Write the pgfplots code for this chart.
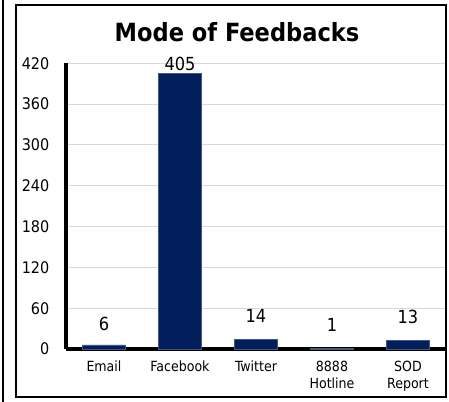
\documentclass[border=0pt]{standalone}
\usepackage{pgfplots}
\pgfplotsset{compat=1.18}
\usepackage{pgfplotstable}
\usepackage{fontspec}
\setmainfont{DejaVu Sans Condensed}

\definecolor{barblue}{RGB}{2,31,92}
\definecolor{gridgrey}{RGB}{217,217,217}

% mode, count, label lift (pt above bar top)
\pgfplotstableread{
x y lift
0 6 11
1 405 2
2 14 12.5
3 1 12.5
4 13 12.5
}\feedbacks

\begin{document}
\begin{tikzpicture}
\begin{axis}[
  scale only axis,
  width=285pt, height=214.3pt,
  xmin=-0.5, xmax=4.5,
  ymin=0, ymax=420,
  ytick={0,60,...,420},
  xtick=data,
  xticklabels={Email,Facebook,Twitter,{8888\\Hotline},{SOD\\Report}},
  xticklabel style={font=\fontsize{10.5}{12.75}\selectfont, align=center, yshift=-5.5pt},
  yticklabel style={font=\fontsize{12}{14}\selectfont, xshift=-9pt},
  /pgf/number format/assume math mode=true,
  major tick length=0pt,
  axis x line=bottom, axis y line=left,
  axis line style={line width=3pt, -},
  ymajorgrids, grid style={gridgrey, line width=0.8pt},
  clip=false,
]
\addplot[ybar, bar width=32.25pt, fill=barblue, draw=barblue!75!white, line width=0.5pt,
  nodes near coords,
  visualization depends on={\thisrow{lift}\as\lift},
  nodes near coords style={font=\fontsize{13.5}{16}\selectfont, anchor=base, yshift=\lift pt},
] table[x=x, y=y] {\feedbacks};
\end{axis}
\node[font=\bfseries\fontsize{18.8}{22}\selectfont] at (128.25pt,237.75pt) {Mode of Feedbacks};
\draw[line width=1.2pt] (-37.5pt,-36pt) rectangle (285pt,258pt);
\draw[line width=1.5pt] (-47.25pt,-40pt) -- (-47.25pt,262pt);
\pgfresetboundingbox
\useasboundingbox (-49.5pt,-39pt) rectangle (287.25pt,261.75pt);
\end{tikzpicture}
\end{document}
